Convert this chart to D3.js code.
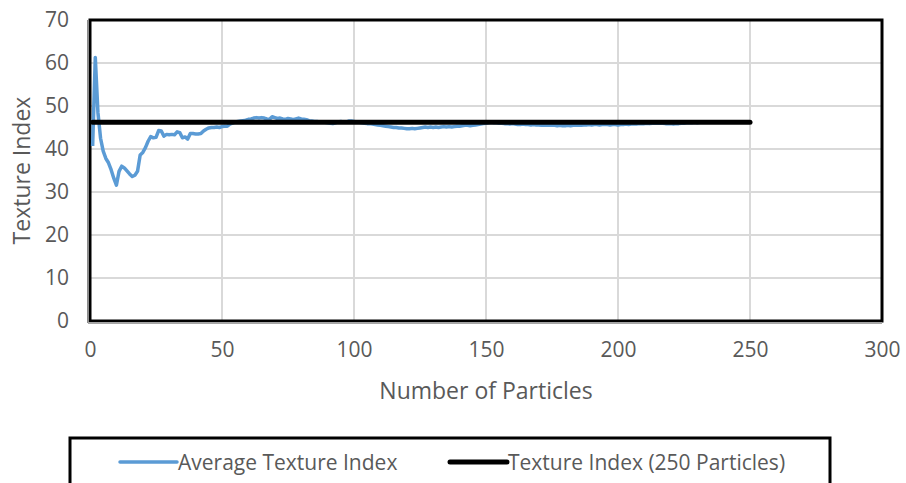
<!DOCTYPE html>
<html>
<head>
<meta charset="utf-8">
<script src="https://cdn.jsdelivr.net/npm/d3@7"></script>
<style>
  body { margin: 0; background: #fff; }
  text { font-family: "Open Sans", sans-serif; fill: #595959; }
</style>
</head>
<body>
<svg id="chart" width="906" height="483"></svg>
<script>
// average texture index for particle counts 1..250
var avgTexture = [
  40.7, 61.3, 48.5, 42.5, 39.5, 37.8, 36.8, 35.2, 33.2, 31.6,
  34.8, 36.0, 35.6, 34.9, 34.2, 33.6, 33.9, 34.8, 38.6, 39.2,
  40.3, 41.8, 42.9, 42.6, 42.7, 44.3, 44.2, 43.0, 43.4, 43.3,
  43.4, 43.3, 44.0, 43.8, 42.6, 42.8, 42.3, 43.6, 43.6, 43.5,
  43.5, 43.6, 44.2, 44.6, 44.9, 45.0, 45.0, 45.1, 45.0, 45.2,
  45.3, 45.3, 45.8, 46.0, 46.3, 46.4, 46.5, 46.6, 46.7, 46.9,
  47.0, 47.2, 47.3, 47.2, 47.3, 47.2, 47.0, 46.9, 47.5, 47.3,
  47.1, 47.2, 47.0, 46.9, 47.1, 47.0, 46.8, 47.0, 47.2, 47.0,
  46.9, 46.8, 46.6, 46.5, 46.4, 46.4, 46.3, 46.3, 46.2, 46.1,
  46.0, 45.9, 46.1, 46.3, 46.4, 46.3, 46.2, 46.5, 46.5, 46.4,
  46.3, 46.2, 46.1, 46.0, 45.9, 45.9, 45.8, 45.7, 45.6, 45.5,
  45.4, 45.3, 45.2, 45.1, 45.0, 45.0, 44.9, 44.9, 44.8, 44.7,
  44.7, 44.8, 44.7, 44.8, 44.9, 45.0, 45.1, 45.0, 45.1, 45.0,
  45.1, 45.0, 45.1, 45.2, 45.1, 45.2, 45.1, 45.2, 45.3, 45.3,
  45.4, 45.5, 45.5, 45.4, 45.5, 45.6, 45.7, 45.8, 45.9, 46.0,
  46.1, 46.2, 46.1, 46.1, 46.0, 46.0, 45.9, 45.9, 45.8, 45.9,
  45.8, 45.7, 45.7, 45.8, 45.7, 45.7, 45.6, 45.7, 45.6, 45.6,
  45.5, 45.6, 45.5, 45.6, 45.5, 45.5, 45.4, 45.5, 45.4, 45.4,
  45.5, 45.4, 45.5, 45.5, 45.6, 45.5, 45.6, 45.6, 45.7, 45.6,
  45.7, 45.7, 45.6, 45.7, 45.7, 45.7, 45.6, 45.7, 45.7, 45.6,
  45.7, 45.7, 45.8, 45.7, 45.8, 45.8, 45.8, 45.9, 45.9, 45.9,
  46.0, 45.9, 46.0, 46.0, 46.0, 46.0, 46.0, 45.9, 45.9, 45.9,
  45.8, 45.9, 45.9, 46.0, 46.0, 46.1, 46.1, 46.1, 46.2, 46.1,
  46.2, 46.2, 46.2, 46.2, 46.2, 46.2, 46.2, 46.2, 46.2, 46.2
];
// reference value computed from all 250 particles
var refTexture = 46.2;
var refRange = [1, 250];

var xTicks = [0, 50, 100, 150, 200, 250, 300];
var yTicks = [0, 10, 20, 30, 40, 50, 60, 70];

var seriesNames = ["Average Texture Index", "Texture Index (250 Particles)"];
var seriesColors = ["#5b9bd5", "#000000"];

var svg = d3.select("#chart");
var plotL = 90, plotR = 882, plotT = 20, plotB = 321;

var x = d3.scaleLinear().domain([0, 300]).range([plotL, plotR]);
var y = d3.scaleLinear().domain([0, 70]).range([plotB, plotT]);

// gridlines
svg.append("g").selectAll("line").data(yTicks.slice(1, -1)).enter().append("line")
    .attr("x1", plotL).attr("x2", plotR)
    .attr("y1", function(d) { return y(d); }).attr("y2", function(d) { return y(d); })
    .attr("stroke", "#d9d9d9").attr("stroke-width", 2);
svg.append("g").selectAll("line").data(xTicks.slice(1, -1)).enter().append("line")
    .attr("y1", plotT).attr("y2", plotB)
    .attr("x1", function(d) { return x(d); }).attr("x2", function(d) { return x(d); })
    .attr("stroke", "#d9d9d9").attr("stroke-width", 2);

// axes (labels only, lines drawn by hand below)
var yAxis = svg.append("g").attr("transform", "translate(" + (plotL - 2) + ",0)")
    .call(d3.axisLeft(y).tickValues(yTicks).tickSize(0).tickPadding(19));
var xAxis = svg.append("g").attr("transform", "translate(0," + (plotB + 2) + ")")
    .call(d3.axisBottom(x).tickValues(xTicks).tickSize(0).tickPadding(19));
[yAxis, xAxis].forEach(function(a) {
  a.select(".domain").remove();
  a.selectAll("text").attr("font-size", 21).attr("fill", "#595959")
      .attr("font-family", "Open Sans, sans-serif");
});

// plot border
svg.append("rect")
    .attr("x", plotL).attr("y", plotT)
    .attr("width", plotR - plotL).attr("height", plotB - plotT)
    .attr("fill", "none").attr("stroke", "#000").attr("stroke-width", 3);
svg.append("line").attr("x1", plotL - 2).attr("x2", plotL - 2)
    .attr("y1", plotT).attr("y2", plotB + 2).attr("stroke", "#8c8c8c").attr("stroke-width", 2);
svg.append("line").attr("x1", plotL - 2).attr("x2", plotR)
    .attr("y1", plotB + 2).attr("y2", plotB + 2).attr("stroke", "#a6a6a6").attr("stroke-width", 2);

// series
var line = d3.line()
    .x(function(d, i) { return x(i + 1); })
    .y(function(d) { return y(d); });

svg.append("path").datum(avgTexture)
    .attr("d", line)
    .attr("fill", "none").attr("stroke", seriesColors[0])
    .attr("stroke-width", 3.5).attr("stroke-linejoin", "round");

svg.append("line")
    .attr("x1", x(refRange[0])).attr("x2", x(refRange[1]))
    .attr("y1", y(refTexture)).attr("y2", y(refTexture))
    .attr("stroke", seriesColors[1]).attr("stroke-width", 5).attr("stroke-linecap", "round");

// axis titles
svg.append("text").attr("x", (plotL + plotR) / 2).attr("y", 399)
    .attr("text-anchor", "middle").attr("font-size", 23).text("Number of Particles");
svg.append("text").attr("transform", "translate(30," + ((plotT + plotB) / 2) + ") rotate(-90)")
    .attr("text-anchor", "middle").attr("font-size", 23).text("Texture Index");

// legend
svg.append("rect").attr("x", 70).attr("y", 438).attr("width", 760).attr("height", 60)
    .attr("fill", "#fff").attr("stroke", "#000").attr("stroke-width", 3);
var legendX = [120, 450];
var lg = svg.append("g").selectAll("g").data(seriesNames).enter().append("g")
    .attr("transform", function(d, i) { return "translate(" + legendX[i] + ",462)"; });
lg.append("line").attr("x1", 0).attr("x2", 57).attr("y1", 0).attr("y2", 0)
    .attr("stroke", function(d, i) { return seriesColors[i]; })
    .attr("stroke-width", function(d, i) { return i ? 5 : 3.5; })
    .attr("stroke-linecap", "round");
lg.append("text").attr("x", 58).attr("y", 7.5).attr("font-size", 21).text(function(d) { return d; });
</script>
</body>
</html>
